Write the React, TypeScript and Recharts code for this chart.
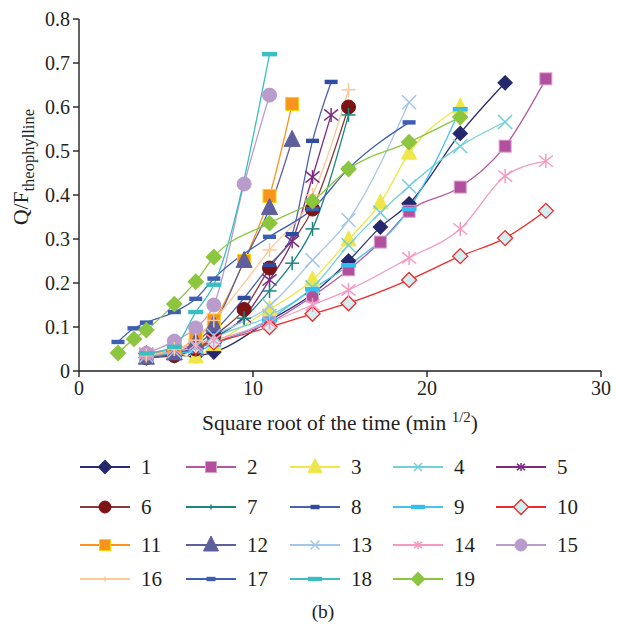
import React from 'react';
import { LineChart, Line, XAxis, YAxis } from 'recharts';

// ---- data: [sqrt(time), Q/F] ----
const d1: [number, number][] = [[3.87,0.03],[5.48,0.035],[6.71,0.035],[7.75,0.043],[10.95,0.115],[13.42,0.175],[15.49,0.25],[17.32,0.327],[18.97,0.38],[21.91,0.54],[24.49,0.655]];
const d2: [number, number][] = [[3.87,0.035],[5.48,0.04],[6.71,0.05],[7.75,0.065],[10.95,0.11],[13.42,0.17],[15.49,0.23],[17.32,0.293],[18.97,0.363],[21.91,0.418],[24.49,0.511],[26.83,0.664]];
const d3: [number, number][] = [[3.87,0.03],[5.48,0.04],[6.71,0.032],[7.75,0.06],[10.95,0.14],[13.42,0.207],[15.49,0.298],[17.32,0.382],[18.97,0.495],[21.91,0.6]];
const d4: [number, number][] = [[3.87,0.035],[5.48,0.04],[6.71,0.05],[7.75,0.075],[10.95,0.125],[13.42,0.19],[15.49,0.286],[17.32,0.36],[18.97,0.42],[21.91,0.511],[24.49,0.566]];
const d5: [number, number][] = [[3.87,0.04],[5.48,0.045],[6.71,0.05],[7.75,0.075],[9.49,0.123],[10.95,0.207],[12.25,0.295],[13.42,0.441],[14.49,0.582]];
const d6: [number, number][] = [[3.87,0.03],[5.48,0.035],[6.71,0.05],[7.75,0.08],[9.49,0.14],[10.95,0.234],[13.42,0.368],[15.49,0.6]];
const d7: [number, number][] = [[3.87,0.03],[5.48,0.04],[6.71,0.05],[7.75,0.075],[9.49,0.12],[10.95,0.182],[12.25,0.245],[13.42,0.323],[15.49,0.582]];
const d8: [number, number][] = [[3.87,0.03],[5.48,0.04],[6.71,0.06],[7.75,0.09],[9.49,0.166],[10.95,0.241],[12.25,0.311],[13.42,0.523],[14.49,0.657]];
const d9: [number, number][] = [[3.87,0.03],[5.48,0.04],[6.71,0.045],[7.75,0.06],[10.95,0.118],[13.42,0.186],[15.49,0.24],[18.97,0.368],[21.91,0.595]];
const d10: [number, number][] = [[3.87,0.04],[5.48,0.045],[6.71,0.055],[7.75,0.065],[10.95,0.1],[13.42,0.13],[15.49,0.154],[18.97,0.207],[21.91,0.261],[24.49,0.302],[26.83,0.364]];
const d11: [number, number][] = [[3.87,0.035],[5.48,0.045],[6.71,0.075],[7.75,0.115],[9.49,0.25],[10.95,0.398],[12.25,0.607]];
const d12: [number, number][] = [[3.87,0.03],[5.48,0.04],[6.71,0.065],[7.75,0.105],[9.49,0.25],[10.95,0.37],[12.25,0.525]];
const d13: [number, number][] = [[3.87,0.035],[5.48,0.045],[6.71,0.055],[7.75,0.08],[10.95,0.148],[13.42,0.252],[15.49,0.343],[18.97,0.611]];
const d14: [number, number][] = [[3.87,0.04],[5.48,0.05],[6.71,0.06],[7.75,0.07],[10.95,0.11],[13.42,0.15],[15.49,0.184],[18.97,0.257],[21.91,0.323],[24.49,0.443],[26.83,0.477]];
const d15: [number, number][] = [[3.87,0.04],[5.48,0.068],[6.71,0.098],[7.75,0.15],[9.49,0.425],[10.95,0.627]];
const d16: [number, number][] = [[3.87,0.035],[5.48,0.05],[6.71,0.07],[7.75,0.115],[10.95,0.275],[13.42,0.4],[15.49,0.639]];
const d17: [number, number][] = [[2.24,0.066],[3.16,0.097],[3.87,0.11],[5.48,0.134],[6.71,0.164],[7.75,0.21],[10.95,0.305],[13.42,0.368],[15.49,0.46],[18.97,0.565]];
const d18: [number, number][] = [[3.87,0.04],[5.48,0.055],[6.71,0.134],[7.75,0.196],[10.95,0.72]];
const d19: [number, number][] = [[2.24,0.041],[3.16,0.073],[3.87,0.093],[5.48,0.152],[6.71,0.203],[7.75,0.259],[10.95,0.336],[13.42,0.386],[15.49,0.459],[18.97,0.52],[21.91,0.577]];

const seriesData = [d1,d2,d3,d4,d5,d6,d7,d8,d9,d10,d11,d12,d13,d14,d15,d16,d17,d18,d19];
const seriesNames = ['1','2','3','4','5','6','7','8','9','10','11','12','13','14','15','16','17','18','19'];
const xTicks = [0, 10, 20, 30];
const yTicks = [0, 0.1, 0.2, 0.3, 0.4, 0.5, 0.6, 0.7, 0.8];

type Kind = 'diamond' | 'square' | 'triangle' | 'x' | 'star' | 'circle' | 'plus' | 'dash';
interface Style { line: string; kind: Kind; fill: string; stroke: string; size: number; lsize: number; }

const styles: Style[] = [
  { line: '#2B2D72', kind: 'diamond', fill: '#26286E', stroke: '#26286E', size: 14, lsize: 13 },
  { line: '#B45AA3', kind: 'square', fill: '#B2509E', stroke: '#D9A0CB', size: 12, lsize: 11 },
  { line: '#EEE64A', kind: 'triangle', fill: '#EEE64A', stroke: '#EEE64A', size: 15, lsize: 14 },
  { line: '#73CFD8', kind: 'x', fill: 'none', stroke: '#73CFD8', size: 14, lsize: 8 },
  { line: '#7B2C7F', kind: 'star', fill: 'none', stroke: '#7B2C7F', size: 14, lsize: 8 },
  { line: '#8A3C3C', kind: 'circle', fill: '#7C1416', stroke: '#7C1416', size: 14, lsize: 12 },
  { line: '#1C8580', kind: 'plus', fill: 'none', stroke: '#1C8580', size: 14, lsize: 5 },
  { line: '#4A62AE', kind: 'dash', fill: '#2F4CA0', stroke: '#2F4CA0', size: 13, lsize: 9 },
  { line: '#48C2EE', kind: 'dash', fill: '#35BDEF', stroke: '#35BDEF', size: 15, lsize: 14 },
  { line: '#EE2A2A', kind: 'diamond', fill: '#D3EDF1', stroke: '#EE2A2A', size: 15, lsize: 15 },
  { line: '#F7931E', kind: 'square', fill: '#F7941D', stroke: '#FFD200', size: 13, lsize: 11 },
  { line: '#5F5F9C', kind: 'triangle', fill: '#5F5F9C', stroke: '#5F5F9C', size: 16, lsize: 15 },
  { line: '#A3C6EA', kind: 'x', fill: 'none', stroke: '#A3C6EA', size: 14, lsize: 9 },
  { line: '#F49AC2', kind: 'star', fill: 'none', stroke: '#F49AC2', size: 14, lsize: 8 },
  { line: '#B99BCC', kind: 'circle', fill: '#B99BCC', stroke: '#B99BCC', size: 14, lsize: 12 },
  { line: '#FCC896', kind: 'plus', fill: 'none', stroke: '#FCC896', size: 14, lsize: 5 },
  { line: '#3D5EB1', kind: 'dash', fill: '#3D5EB1', stroke: '#3D5EB1', size: 13, lsize: 9 },
  { line: '#3CBEC0', kind: 'dash', fill: '#3CBEC0', stroke: '#3CBEC0', size: 15, lsize: 14 },
  { line: '#8CC63F', kind: 'diamond', fill: '#8CC63F', stroke: '#8CC63F', size: 15, lsize: 13 },
];

const FONT = '"Liberation Serif", "DejaVu Serif", serif';
const INK = '#231F20';
const TICK_FS = 20;

function Marker({ kind, x, y, s, fill, stroke }: { kind: Kind; x: number; y: number; s: number; fill: string; stroke: string }) {
  const h = s / 2;
  switch (kind) {
    case 'diamond':
      return <polygon points={`${x},${y - h} ${x + h},${y} ${x},${y + h} ${x - h},${y}`} fill={fill} stroke={stroke} strokeWidth={1.3} />;
    case 'square':
      return <rect x={x - h} y={y - h} width={s} height={s} fill={fill} stroke={stroke} strokeWidth={1} />;
    case 'triangle':
      return <polygon points={`${x},${y - s * 0.6} ${x + h},${y + s * 0.4} ${x - h},${y + s * 0.4}`} fill={fill} stroke={stroke} strokeWidth={1} />;
    case 'circle':
      return <circle cx={x} cy={y} r={h} fill={fill} stroke={stroke} strokeWidth={1} />;
    case 'x':
      return (
        <g stroke={stroke} strokeWidth={1.5}>
          <line x1={x - h} y1={y - h} x2={x + h} y2={y + h} />
          <line x1={x - h} y1={y + h} x2={x + h} y2={y - h} />
        </g>
      );
    case 'star':
      return (
        <g stroke={stroke} strokeWidth={1.5}>
          <line x1={x - h} y1={y - h * 0.8} x2={x + h} y2={y + h * 0.8} />
          <line x1={x - h} y1={y + h * 0.8} x2={x + h} y2={y - h * 0.8} />
          <line x1={x} y1={y - h} x2={x} y2={y + h} />
        </g>
      );
    case 'plus':
      return (
        <g stroke={stroke} strokeWidth={1.5}>
          <line x1={x - h} y1={y} x2={x + h} y2={y} />
          <line x1={x} y1={y - h} x2={x} y2={y + h} />
        </g>
      );
    case 'dash':
    default:
      return <rect x={x - h} y={y - 2.2} width={s} height={4.4} fill={fill} />;
  }
}

function XTick(props: any) {
  const { x, y, payload } = props;
  return (
    <text x={x} y={y + 16} textAnchor="middle" fill={INK} fontSize={TICK_FS} fontFamily={FONT}>
      {String(payload.value)}
    </text>
  );
}

function YTick(props: any) {
  const { x, y, payload } = props;
  const v = payload.value as number;
  return (
    <text x={x - 1} y={y + 6.5} textAnchor="end" fill={INK} fontSize={TICK_FS} fontFamily={FONT}>
      {v === 0 ? '0' : v.toFixed(1)}
    </text>
  );
}

const legendRows = [467, 507, 545, 579];
const legendCols = [80, 186, 290, 393, 496];

export default function App() {
  return (
    <div style={{ position: 'absolute', left: 0, top: 0, width: 617, height: 629, background: '#fff' }}>
      <LineChart width={617} height={440} margin={{ top: 19, right: 16, bottom: 39, left: 0 }}>
        <XAxis
          type="number"
          dataKey="x"
          domain={[0, 30]}
          ticks={xTicks}
          interval={0}
          height={30}
          tickSize={6}
          axisLine={{ stroke: INK, strokeWidth: 1.4 }}
          tickLine={{ stroke: INK, strokeWidth: 1.4 }}
          tick={<XTick />}
          label={{
            content: () => (
              <text x={340} y={430} textAnchor="middle" fill={INK} fontSize={21.5} fontFamily={FONT}>
                Square root of the time (min <tspan dy={-8} fontSize={15}>1/2</tspan><tspan dy={8}>)</tspan>
              </text>
            ),
          }}
        />
        <YAxis
          type="number"
          dataKey="y"
          domain={[0, 0.8]}
          ticks={yTicks}
          interval={0}
          width={79}
          tickSize={6}
          axisLine={{ stroke: INK, strokeWidth: 1.4 }}
          tickLine={{ stroke: INK, strokeWidth: 1.4 }}
          tick={<YTick />}
          label={{
            content: () => (
              <text transform="translate(28,167) rotate(-90)" textAnchor="middle" fill={INK} fontSize={21.5} fontFamily={FONT}>
                Q/F<tspan dy={6} fontSize={16.5}>theophylline</tspan>
              </text>
            ),
          }}
        />
        {seriesData.map((d, i) => {
          const st = styles[i];
          return (
            <Line
              key={seriesNames[i]}
              name={seriesNames[i]}
              data={d.map(([x, y]) => ({ x, y }))}
              dataKey="y"
              type="monotone"
              stroke={st.line}
              strokeWidth={1.3}
              isAnimationActive={false}
              dot={(p: any) => (
                <Marker key={`m${i}-${p.index}`} kind={st.kind} x={p.cx} y={p.cy} s={st.size} fill={st.fill} stroke={st.stroke} />
              )}
              activeDot={false}
            />
          );
        })}
      </LineChart>
      <svg width={617} height={189} style={{ position: 'absolute', left: 0, top: 440 }}>
        {seriesNames.map((n, i) => {
          const st = styles[i];
          const y = legendRows[Math.floor(i / 5)] - 440;
          const x0 = legendCols[i % 5];
          return (
            <g key={n}>
              <line x1={x0} y1={y} x2={x0 + 50} y2={y} stroke={st.line} strokeWidth={2} />
              <Marker kind={st.kind} x={x0 + 25} y={y} s={st.lsize} fill={st.fill} stroke={st.stroke} />
              <text x={x0 + 61} y={y + 7} fill={INK} fontSize={21} fontFamily={FONT}>{n}</text>
            </g>
          );
        })}
        <text x={323} y={178} textAnchor="middle" fill={INK} fontSize={19.5} fontFamily={FONT}>(b)</text>
      </svg>
    </div>
  );
}
